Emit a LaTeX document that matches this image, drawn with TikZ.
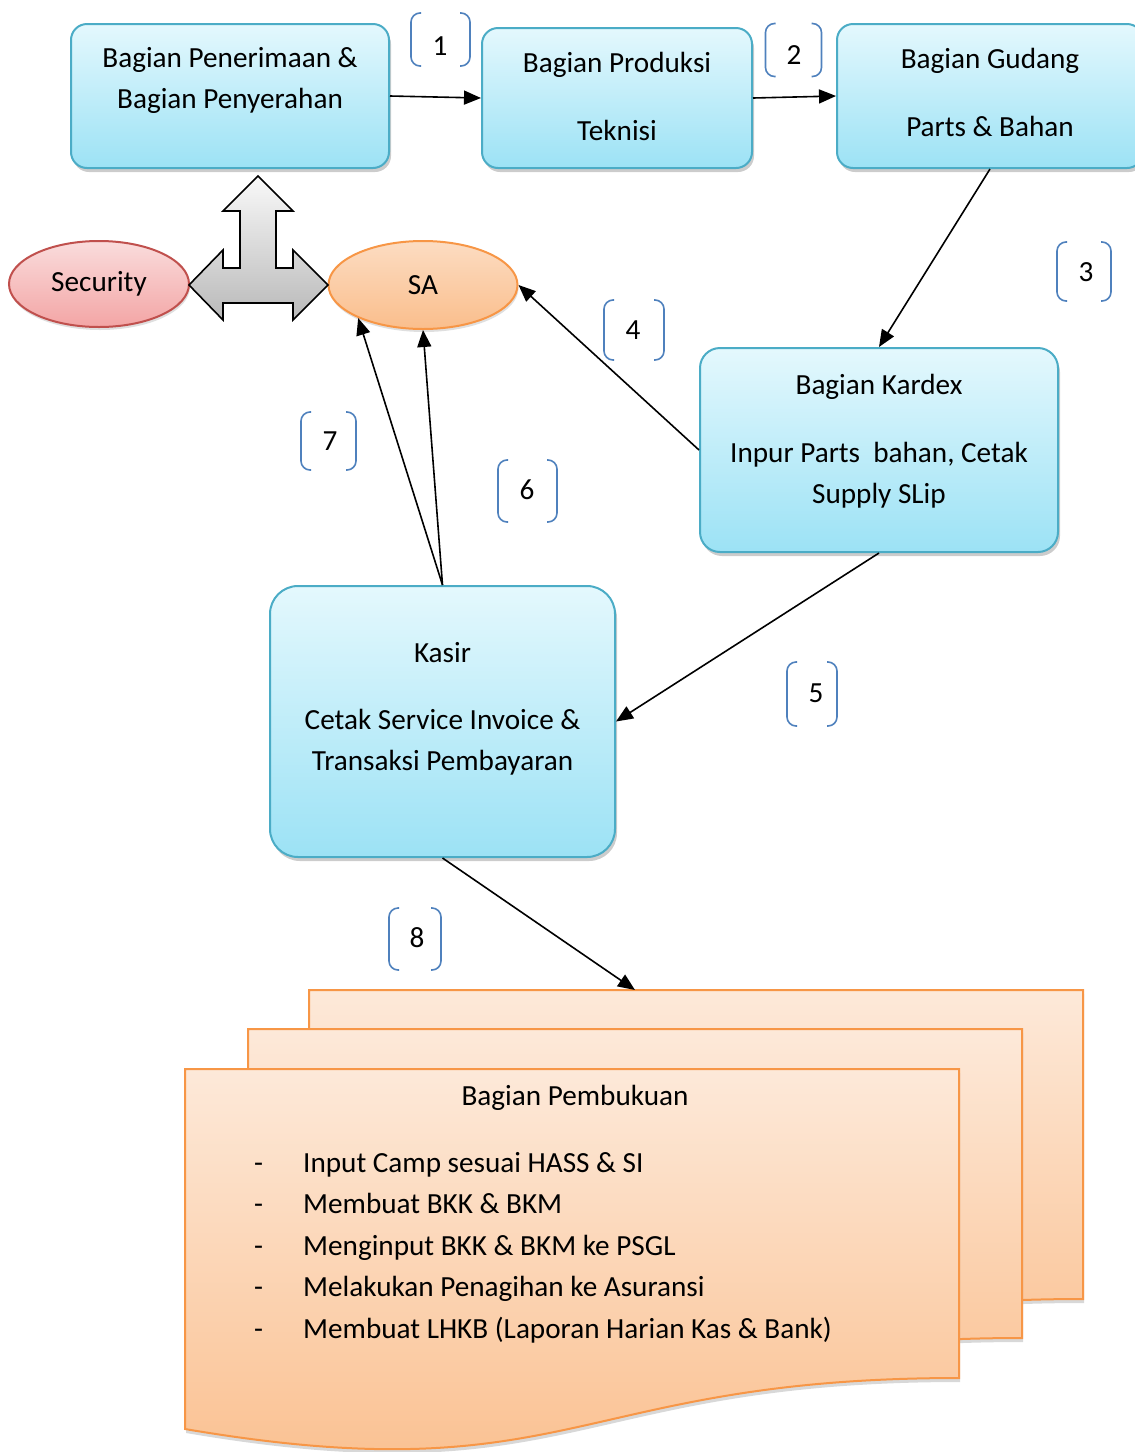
\documentclass[tikz,border=0pt]{standalone}
\usepackage{fontspec}
\setmainfont{Carlito}
\usetikzlibrary{arrows.meta,positioning,shapes.geometric,shadows}
\definecolor{kotakBiru}{RGB}{75,172,198}
\definecolor{kotakAtas}{RGB}{228,248,253}
\definecolor{kotakBawah}{RGB}{156,226,245}
\definecolor{secMerah}{RGB}{192,80,77}
\definecolor{secAtas}{RGB}{250,220,220}
\definecolor{secBawah}{RGB}{243,165,165}
\definecolor{oranye}{RGB}{247,150,70}
\definecolor{oranyeAtas}{RGB}{253,233,217}
\definecolor{oranyeBawah}{RGB}{250,190,140}
\definecolor{kurungBiru}{RGB}{79,129,189}

\begin{document}
\begin{tikzpicture}[x=1pt, y=-1pt,
    every node/.style={font=\fontsize{29.2}{41}\selectfont, text=black},
    bagian/.style={rectangle, draw=kotakBiru, line width=2pt, top color=kotakAtas,
                   bottom color=kotakBawah, align=center, inner sep=0pt,
                   drop shadow={shadow xshift=2pt, shadow yshift=-4pt, fill=black!40}},
    pihak/.style={ellipse, line width=2pt, inner sep=0pt,
                  drop shadow={shadow xshift=1pt, shadow yshift=-3pt, fill=black!25}},
    nomor/.style={inner sep=0pt},
    kurung/.style={kurungBiru, line width=1.6pt, rounded corners=9pt},
    panah/.style={-{Triangle[length=17pt,width=14pt]}, line width=1.6pt},
    lembar/.style={draw=oranye, line width=2pt, top color=oranyeAtas, bottom color=oranyeBawah,
                   drop shadow={shadow xshift=1pt, shadow yshift=-4pt, fill=black!30}}
  ]
  \useasboundingbox (0,0) rectangle (1135,1452);

  % kotak bagian
  \node[bagian, minimum width=318pt, minimum height=144pt, rounded corners=16pt] (terima) at (230,96)
       {\strut Bagian Penerimaan \&\\Bagian Penyerahan\\[-8pt]\strut};
  \node[bagian, minimum width=270pt, minimum height=140pt, rounded corners=16pt] (produksi) at (617,98)
       {\strut Bagian Produksi\\[27pt]Teknisi\strut};
  \node[bagian, minimum width=306pt, minimum height=144pt, rounded corners=16pt] (gudang) at (990,96)
       {\strut Bagian Gudang\\[27pt]Parts \& Bahan\\[-37pt]\strut};
  \node[bagian, minimum width=358pt, minimum height=204pt, rounded corners=20pt] (kardex) at (879,450)
       {\strut Bagian Kardex\\[27pt]Inpur Parts\ \ bahan, Cetak\\Supply SLip\\[-23pt]\strut};
  \node[bagian, minimum width=345pt, minimum height=271pt, rounded corners=28pt] (kasir) at (442.5,721.5)
       {\strut Kasir\\[26pt]Cetak Service Invoice \&\\Transaksi Pembayaran\\[-14pt]\strut};

  % security dan SA
  \node[pihak, draw=secMerah, top color=secAtas, bottom color=secBawah,
        minimum width=180pt, minimum height=86pt] (security) at (99,284) {Security};
  \node[pihak, draw=oranye, top color=oranyeAtas!70!oranyeBawah, bottom color=oranyeBawah,
        minimum width=189pt, minimum height=88pt] (sa) at (423,285) {SA};

  % panah tiga arah
  \filldraw[draw=black, line width=1.6pt, top color=gray!5, bottom color=gray!55, miter limit=20]
    (258,176) -- (293,211) -- (276,211) -- (276,268) -- (293,268) -- (293,250) -- (328,285)
    -- (293,320) -- (293,303) -- (223,303) -- (223,320) -- (189,285) -- (223,250)
    -- (223,268) -- (240,268) -- (240,211) -- (223,211) -- cycle;

  % lembar pembukuan
  \foreach \dx/\dy in {124/-79, 63/-40, 0/0} {
    \begin{scope}[shift={(\dx,\dy)}]
      \path[lembar] (185,1069) -- (959,1069) -- (959,1378)
        .. controls (572,1378) and (572,1495) .. (185,1429) -- cycle;
    \end{scope}
  }
  \coordinate (dokumen) at (635,990);
  \node (judul) at (575,1098) {Bagian Pembukuan};
  \node[anchor=north west, align=left, inner sep=0pt, font=\fontsize{29.2}{41.5}\selectfont] (tugas) at (254,1143)
       {\strut\makebox[49pt][l]{-}Input Camp sesuai HASS \& SI\\
        \makebox[49pt][l]{-}Membuat BKK \& BKM\\
        \makebox[49pt][l]{-}Menginput BKK \& BKM ke PSGL\\
        \makebox[49pt][l]{-}Melakukan Penagihan ke Asuransi\\
        \makebox[49pt][l]{-}Membuat LHKB (Laporan Harian Kas \& Bank)};

  % nomor urut
  \foreach \n/\cx/\cy/\hw/\hh/\nx/\ny in {1/440.5/39.5/29.5/26.5/440/46, 2/793.5/50/28/26.5/794/55,
      3/1084/271.5/27/29.5/1086/272, 4/634/330/30/30/633/330, 5/812/694/25/32/816/693,
      6/527.5/491/29.5/31/527/490, 7/328.5/441/27.5/29/330/441, 8/415/939/26/31/417/938} {
    \node[nomor] (no\n) at (\nx,\ny) {\n};
    \draw[kurung] (\cx-\hw+10,\cy-\hh) -- (\cx-\hw,\cy-\hh) -- (\cx-\hw,\cy+\hh) -- (\cx-\hw+10,\cy+\hh);
    \draw[kurung] (\cx+\hw-10,\cy-\hh) -- (\cx+\hw,\cy-\hh) -- (\cx+\hw,\cy+\hh) -- (\cx+\hw-10,\cy+\hh);
  }

  % alur
  \draw[panah] (terima.east) -- (produksi.west);
  \draw[panah] (produksi.east) -- (gudang.west);
  \draw[panah] (gudang.south) -- (kardex.north);
  \draw[panah] (kardex.west) -- (sa.east);
  \draw[panah] (kardex.south) -- (kasir.east);
  \draw[panah] (kasir.north) -- (sa.south);
  \draw[panah] (kasir.north) -- (sa.207);
  \draw[panah] (kasir.south) -- (dokumen);
\end{tikzpicture}
\end{document}
